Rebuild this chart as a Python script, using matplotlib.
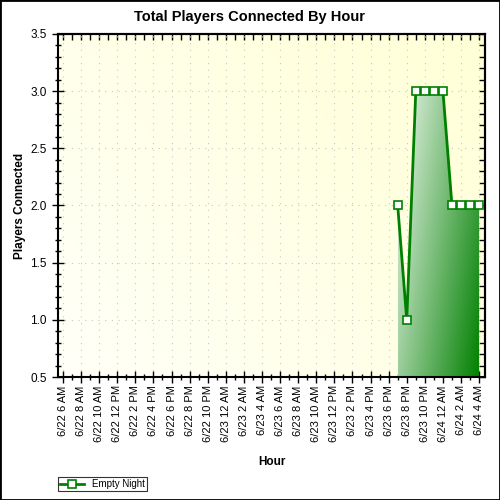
import matplotlib
matplotlib.use("Agg")
import matplotlib.pyplot as plt
import matplotlib.dates as mdates
from matplotlib.colors import LinearSegmentedColormap
from matplotlib.ticker import MultipleLocator, FormatStrFormatter, NullFormatter
import numpy as np
import pandas as pd

plt.rcParams['font.family'] = ['Liberation Sans', 'DejaVu Sans']

# data
times = ['2024-06-23 19:00', '2024-06-23 20:00', '2024-06-23 21:00', '2024-06-23 22:00',
         '2024-06-23 23:00', '2024-06-24 00:00', '2024-06-24 01:00', '2024-06-24 02:00',
         '2024-06-24 03:00', '2024-06-24 04:00']
players = [2, 1, 3, 3, 3, 3, 2, 2, 2, 2]

tick_times = ['2024-06-22 06:00', '2024-06-22 08:00', '2024-06-22 10:00', '2024-06-22 12:00',
              '2024-06-22 14:00', '2024-06-22 16:00', '2024-06-22 18:00', '2024-06-22 20:00',
              '2024-06-22 22:00', '2024-06-23 00:00', '2024-06-23 02:00', '2024-06-23 04:00',
              '2024-06-23 06:00', '2024-06-23 08:00', '2024-06-23 10:00', '2024-06-23 12:00',
              '2024-06-23 14:00', '2024-06-23 16:00', '2024-06-23 18:00', '2024-06-23 20:00',
              '2024-06-23 22:00', '2024-06-24 00:00', '2024-06-24 02:00', '2024-06-24 04:00']
tick_labels = ['6/22 6 AM', '6/22 8 AM', '6/22 10 AM', '6/22 12 PM', '6/22 2 PM', '6/22 4 PM',
               '6/22 6 PM', '6/22 8 PM', '6/22 10 PM', '6/23 12 AM', '6/23 2 AM', '6/23 4 AM',
               '6/23 6 AM', '6/23 8 AM', '6/23 10 AM', '6/23 12 PM', '6/23 2 PM', '6/23 4 PM',
               '6/23 6 PM', '6/23 8 PM', '6/23 10 PM', '6/24 12 AM', '6/24 2 AM', '6/24 4 AM']

x = mdates.date2num(pd.to_datetime(times))
xt = mdates.date2num(pd.to_datetime(tick_times))
hour = 1 / 24

fig = plt.figure(figsize=(5, 5), dpi=100)
ax = fig.add_axes([0.116, 0.246, 0.854, 0.686])

xmin, xmax = xt[0] - 0.55 * hour, xt[-1] + 0.65 * hour
ymin, ymax = 0.5, 3.5
ax.set_xlim(xmin, xmax)
ax.set_ylim(ymin, ymax)

# yellow gradient background
bg = LinearSegmentedColormap.from_list('bg', ['#fffff8', '#ffffd6'])
gx, gy = np.meshgrid(np.linspace(0, 1, 200), np.linspace(0, 1, 200))
ax.imshow(0.6 * gx + 0.4 * gy, cmap=bg, extent=[xmin, xmax, ymin, ymax],
          aspect='auto', origin='lower', zorder=0)

ax.grid(True, which='major', color='#c8c8c8', linestyle=(0, (1, 5)), linewidth=0.8, zorder=1)

# green gradient area
poly = ax.fill_between(x, players, ymin, color='none', zorder=2)
grn = LinearSegmentedColormap.from_list('grn', ['#eef7ee', '#008000'])
u, v = np.meshgrid(np.linspace(0, 1, 200), np.linspace(0, 1, 200))
img = ax.imshow(0.65 * u + 0.35 * (1 - v), cmap=grn, vmin=0, vmax=1,
                extent=[x[0], x[-1], ymin, max(players)], aspect='auto',
                origin='lower', zorder=2)
img.set_clip_path(poly.get_paths()[0], transform=ax.transData)

ax.plot(x, players, color='#008000', linewidth=2, marker='s', markersize=5.5,
        markerfacecolor='white', markeredgecolor='#008000', markeredgewidth=1.2,
        zorder=3, label='Empty Night', clip_on=False)

ax.set_xticks(xt)
ax.set_xticklabels(tick_labels, rotation=90, fontsize=8)
ax.xaxis.set_minor_locator(MultipleLocator(hour))
ax.yaxis.set_major_locator(MultipleLocator(0.5))
ax.yaxis.set_minor_locator(MultipleLocator(0.1))
ax.yaxis.set_major_formatter(FormatStrFormatter('%.1f'))
ax.tick_params(axis='y', labelsize=8.5, pad=4)
ax.tick_params(which='major', direction='inout', length=8, width=1)
ax.tick_params(which='minor', direction='inout', length=5, width=1)
ax.tick_params(which='both', axis='x', pad=2)
for side in ax.spines:
    ax.spines[side].set_linewidth(1.5)

# inward ticks on top and right
top = ax.secondary_xaxis('top')
top.set_xticks(xt)
top.xaxis.set_minor_locator(MultipleLocator(hour))
top.xaxis.set_major_formatter(NullFormatter())
top.tick_params(which='both', direction='in', length=4, width=1)
top.spines['top'].set_linewidth(1.5)
right = ax.secondary_yaxis('right')
right.yaxis.set_major_locator(MultipleLocator(0.5))
right.yaxis.set_minor_locator(MultipleLocator(0.1))
right.yaxis.set_major_formatter(NullFormatter())
right.tick_params(which='both', direction='in', length=4, width=1)
right.spines['right'].set_linewidth(1.5)

fig.text(0.5, 0.966, 'Total Players Connected By Hour', fontsize=10.5,
         fontweight='bold', ha='center', va='center')
ax.set_ylabel('Players Connected', fontsize=8.5, fontweight='bold', labelpad=3)
ax.set_xlabel('Hour', fontsize=8.5, fontweight='bold', labelpad=10)

leg = fig.legend(loc='lower left', bbox_to_anchor=(0.116, 0.018), fontsize=7,
                 frameon=True, fancybox=False, edgecolor='black', handlelength=2.5,
                 borderpad=0.2, handletextpad=0.8, borderaxespad=0)
leg.get_frame().set_linewidth(0.8)

fig.patches.append(plt.Rectangle((0, 0), 1, 1, transform=fig.transFigure,
                                 fill=False, edgecolor='black', linewidth=2))

fig.savefig('out.png', dpi=100)
